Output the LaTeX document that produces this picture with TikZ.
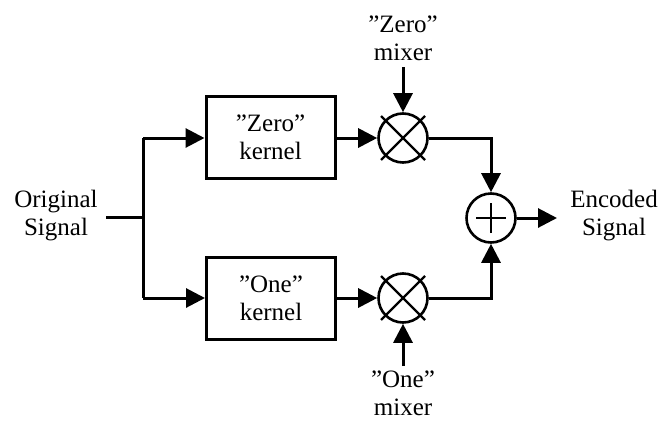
\documentclass[tikz,border=0pt]{standalone}
\usepackage{fontspec}
\setmainfont{Liberation Serif}
\usetikzlibrary{arrows.meta,calc}
\begin{document}
\begin{tikzpicture}[x=1pt,y=1pt,
  every node/.style={font=\fontsize{25}{28}\selectfont},
  lbl/.style={align=center,inner sep=0pt},
  kbox/.style={draw,line width=3pt,minimum width=129pt,minimum height=82pt,align=center,inner sep=0pt},
  mix/.style={draw,circle,line width=2.6pt,minimum size=49pt,inner sep=0pt},
  wire/.style={line width=3pt},
  arr/.style={wire,-{Triangle[length=19pt,width=19pt]}}]
\useasboundingbox (0,0) rectangle (660,-423);
% nodes
\node[lbl] (orig) at (56,-216) {Original\\Signal};
\coordinate (src) at (106,-217);
\coordinate (junc) at (143,-217);
\coordinate (jt) at (143,-138);
\coordinate (jb) at (143,-298);
\node[kbox] (zk) at (270.5,-137) {”Zero”\\kernel};
\node[kbox] (ok) at (271,-298) {”One”\\kernel};
\node[mix] (zm) at (403,-138) {};
\node[mix] (om) at (403,-298) {};
\node[mix] (sum) at (491,-218) {};
\node[lbl] (zlab) at (403,-38) {”Zero”\\mixer};
\node[lbl] (olab) at (403,-393) {”One”\\mixer};
\coordinate (zin) at (403,-67);
\coordinate (oin) at (403,-366);
\node[lbl] (enc) at (614,-216) {Encoded\\Signal};
\coordinate (out) at (557,-218);
% cross and plus marks
\foreach \m in {zm,om}{
  \draw[line width=2.4pt] ($(\m.center)+(-22,22)$) -- ($(\m.center)+(22,-22)$);
  \draw[line width=2.4pt] ($(\m.center)+(-22,-22)$) -- ($(\m.center)+(22,22)$);
}
\draw[line width=2.8pt] ($(sum.center)+(-15,0)$) -- ($(sum.center)+(15,0)$);
\draw[line width=2.8pt] ($(sum.center)+(0,-15)$) -- ($(sum.center)+(0,15)$);
% connectors
\draw[wire] (src) -- (junc);
\draw[wire] (jt) -- (jb);
\draw[arr] (jt) -- (zk.west |- jt);
\draw[arr] (jb) -- (ok.west |- jb);
\draw[arr] (zk.east |- zm) -- (zm.west);
\draw[arr] (ok.east |- om) -- (om.west);
\draw[arr] (zin) -- (zm.north);
\draw[arr] (oin) -- (om.south);
\draw[arr] (zm.east) -| (sum.north);
\draw[arr] (om.east) -| (sum.south);
\draw[arr] (sum.east) -- (out);
\end{tikzpicture}
\end{document}
